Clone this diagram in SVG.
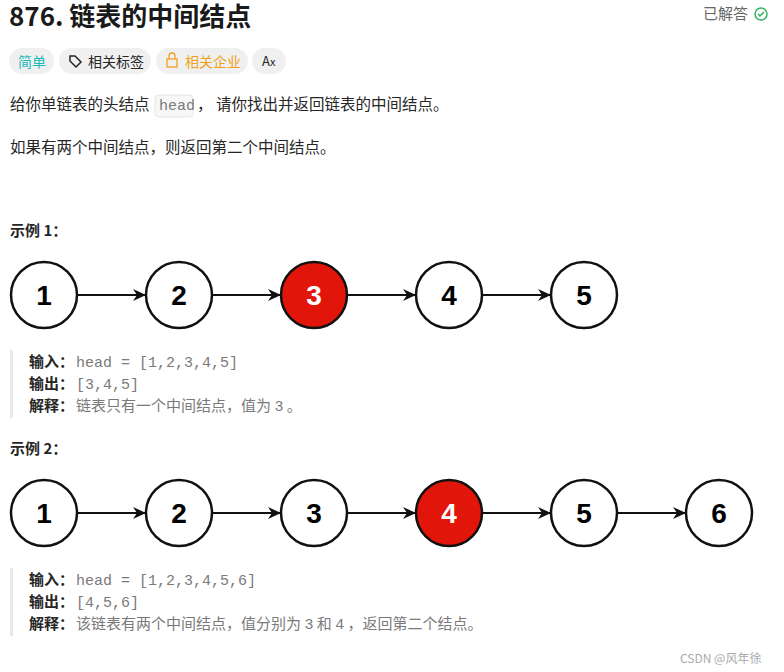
<svg xmlns="http://www.w3.org/2000/svg" width="784" height="672" viewBox="0 0 784 672">
<defs>
<style>
text{font-family:"Noto Sans CJK SC","Noto Sans",sans-serif}
.b{font-size:15.5px;fill:#262626}
.m{font-family:"Liberation Mono",monospace;font-size:15px;fill:#7a7a7a}
.g{font-size:15px;fill:#7a7a7a}
.k{font-weight:bold;font-size:15px;fill:#262626}
.c{fill:#fff;stroke:#111;stroke-width:2.5}
.r{fill:#e2150a;stroke:#111;stroke-width:2.5}
.n{font-family:"Liberation Sans",Arial,sans-serif;font-weight:bold;font-size:28px;text-anchor:middle}
.e{stroke:#111;stroke-width:2;fill:none;marker-end:url(#a)}
.tag{fill:#f0f0f0}
</style>
<marker id="a" markerWidth="13" markerHeight="12" refX="12" refY="6" orient="auto" markerUnits="userSpaceOnUse"><path d="M0,0 L13,6 L0,12 L4,6 Z" fill="#111"/></marker>
</defs>
<rect width="784" height="672" fill="#fff"/>
<text x="9" y="26" font-size="26" font-weight="bold" fill="#1a1a1a">876. 链表的中间结点</text>
<text x="703" y="19" font-size="15" fill="#666">已解答</text>
<circle cx="761" cy="14" r="6" fill="none" stroke="#2db55d" stroke-width="1.5"/>
<path d="M758,14 l2,2 l4,-4" stroke="#2db55d" stroke-width="1.5" fill="none"/>
<rect class="tag" x="9" y="48" width="45" height="26" rx="13"/>
<text x="18" y="67" font-size="14" fill="#1cbaba">简单</text>
<rect class="tag" x="59" y="48" width="92" height="26" rx="13"/>
<path d="M70,56 v5 l6,6 l5,-5 l-6,-6 z" fill="none" stroke="#262626" stroke-width="1.5"/>
<text x="88" y="67" font-size="14" fill="#262626">相关标签</text>
<rect class="tag" x="156" y="48" width="92" height="26" rx="13"/>
<rect x="167" y="59" width="10" height="8" fill="none" stroke="#f0a020" stroke-width="1.3"/>
<path d="M169,59 v-3 a3,3 0 0 1 6,0 v3" fill="none" stroke="#f0a020" stroke-width="1.3"/>
<text x="185" y="67" font-size="14" fill="#f0a020">相关企业</text>
<rect class="tag" x="252" y="48" width="34" height="26" rx="13"/>
<text x="262" y="66" font-size="13" fill="#262626">A<tspan font-size="11">x</tspan></text>
<text class="b" x="10" y="110">给你单链表的头结点</text>
<rect x="155" y="95" width="38" height="22" rx="4" fill="#f7f7f7" stroke="#e6e6e6"/>
<text class="m" x="159" y="110" font-size="13">head</text>
<text class="b" x="197" y="110">， 请你找出并返回链表的中间结点。</text>
<text class="b" x="10" y="153">如果有两个中间结点，则返回第二个中间结点。</text>
<text class="k" x="10" y="236">示例 1：</text>
<g id="conn">
<line class="e" x1="77" y1="295" x2="145" y2="295"/>
<line class="e" x1="212" y1="295" x2="280" y2="295"/>
<line class="e" x1="347" y1="295" x2="415" y2="295"/>
<line class="e" x1="482" y1="295" x2="550" y2="295"/>
<line class="e" x1="77" y1="513" x2="145" y2="513"/>
<line class="e" x1="212" y1="513" x2="280" y2="513"/>
<line class="e" x1="347" y1="513" x2="415" y2="513"/>
<line class="e" x1="482" y1="513" x2="550" y2="513"/>
<line class="e" x1="617" y1="513" x2="685" y2="513"/>
</g>
<g id="a1"><circle class="c" cx="44" cy="295" r="33"/><text class="n" x="44" y="305">1</text></g>
<g id="a2"><circle class="c" cx="179" cy="295" r="33"/><text class="n" x="179" y="305">2</text></g>
<g id="a3"><circle class="r" cx="314" cy="295" r="33"/><text class="n" x="314" y="305" fill="#fff">3</text></g>
<g id="a4"><circle class="c" cx="449" cy="295" r="33"/><text class="n" x="449" y="305">4</text></g>
<g id="a5"><circle class="c" cx="584" cy="295" r="33"/><text class="n" x="584" y="305">5</text></g>
<rect x="10" y="350" width="3" height="68" fill="#e8e8e8"/>
<text class="k" x="29" y="367">输入：</text><text class="m" x="76" y="367">head = [1,2,3,4,5]</text>
<text class="k" x="29" y="389">输出：</text><text class="m" x="76" y="389">[3,4,5]</text>
<text class="k" x="29" y="411">解释：</text><text class="g" x="76" y="411">链表只有一个中间结点，值为 <tspan class="m">3</tspan> 。</text>
<text class="k" x="10" y="454">示例 2：</text>
<g id="b1"><circle class="c" cx="44" cy="513" r="33"/><text class="n" x="44" y="523">1</text></g>
<g id="b2"><circle class="c" cx="179" cy="513" r="33"/><text class="n" x="179" y="523">2</text></g>
<g id="b3"><circle class="c" cx="314" cy="513" r="33"/><text class="n" x="314" y="523">3</text></g>
<g id="b4"><circle class="r" cx="449" cy="513" r="33"/><text class="n" x="449" y="523" fill="#fff">4</text></g>
<g id="b5"><circle class="c" cx="584" cy="513" r="33"/><text class="n" x="584" y="523">5</text></g>
<g id="b6"><circle class="c" cx="719" cy="513" r="33"/><text class="n" x="719" y="523">6</text></g>
<rect x="10" y="568" width="3" height="68" fill="#e8e8e8"/>
<text class="k" x="29" y="585">输入：</text><text class="m" x="76" y="585">head = [1,2,3,4,5,6]</text>
<text class="k" x="29" y="607">输出：</text><text class="m" x="76" y="607">[4,5,6]</text>
<text class="k" x="29" y="629">解释：</text><text class="g" x="76" y="629">该链表有两个中间结点，值分别为 <tspan class="m">3</tspan> 和 <tspan class="m">4</tspan> ，返回第二个结点。</text>
<text x="680" y="663" font-size="12" fill="#aaa">CSDN @风年徐</text>
</svg>
